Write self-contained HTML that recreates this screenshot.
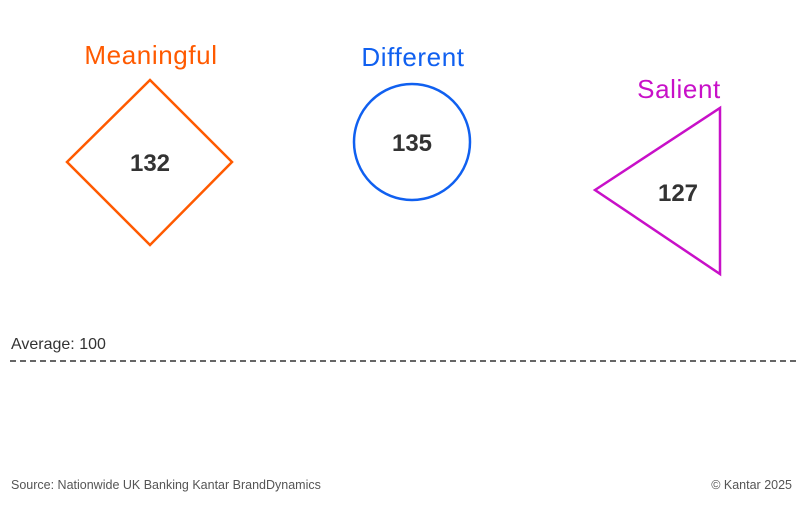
<!DOCTYPE html>
<html><head><meta charset="utf-8"><style>
html,body{margin:0;padding:0;background:#fff;}
body{width:800px;height:500px;overflow:hidden;}
</style></head><body>
<svg width="800" height="500" xmlns="http://www.w3.org/2000/svg" font-family="Liberation Sans, sans-serif">
<text x="151" y="64" text-anchor="middle" font-size="26" letter-spacing="0.6" fill="#FF5A00">Meaningful</text>
<polygon points="150,80 232,162 150,245 67,162" fill="none" stroke="#FF5A00" stroke-width="2.5"/>
<text x="150" y="171" text-anchor="middle" font-size="24" font-weight="bold" fill="#333">132</text>

<text x="413" y="66" text-anchor="middle" font-size="26" letter-spacing="0.6" fill="#1060F0">Different</text>
<circle cx="412" cy="142" r="58" fill="none" stroke="#1060F0" stroke-width="2.5"/>
<text x="412" y="151" text-anchor="middle" font-size="24" font-weight="bold" fill="#333">135</text>

<text x="679" y="98" text-anchor="middle" font-size="26" letter-spacing="0.6" fill="#C810C8">Salient</text>
<polygon points="595,190 720,108 720,274" fill="none" stroke="#C810C8" stroke-width="2.5"/>
<text x="678" y="201" text-anchor="middle" font-size="24" font-weight="bold" fill="#333">127</text>

<text x="11" y="349" font-size="16" fill="#333">Average: 100</text>
<line x1="10" y1="361" x2="796" y2="361" stroke="#333" stroke-width="1.5" stroke-dasharray="6,4"/>

<text x="11" y="489" font-size="12.5" fill="#555">Source: Nationwide UK Banking Kantar BrandDynamics</text>
<text x="792" y="489" text-anchor="end" font-size="12.5" fill="#555">© Kantar 2025</text>
</svg>
</body></html>
